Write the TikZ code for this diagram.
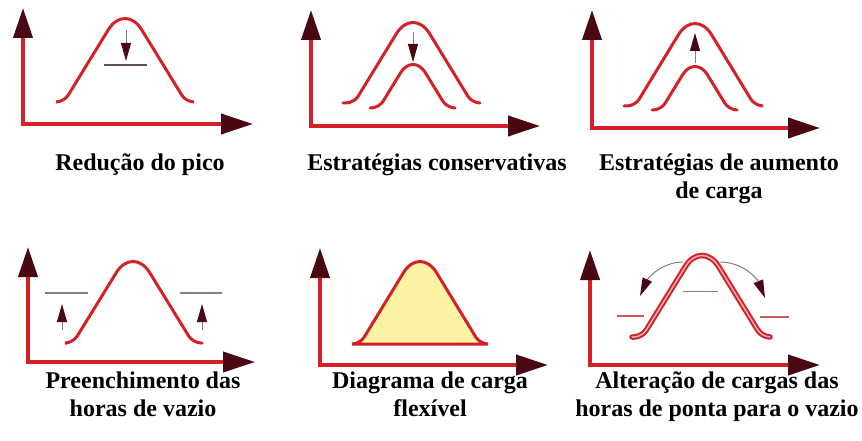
\documentclass[tikz,border=0pt]{standalone}
\usepackage{fontspec}
\setmainfont{Liberation Serif}
\usetikzlibrary{arrows.meta}
\definecolor{axisred}{HTML}{D42127}
\definecolor{tipdark}{HTML}{4A0812}
\definecolor{markgray}{HTML}{8C7A80}
\definecolor{levelgray}{HTML}{5E4E5E}
\definecolor{sidered}{HTML}{C85A5A}
\definecolor{areayellow}{HTML}{FDF3A4}
\tikzset{
  axisline/.style={draw=axisred, line width=4pt,
    {Triangle[length=30pt,width=19pt,color=tipdark]}-{Triangle[length=32pt,width=20pt,color=tipdark]}},
  loadcurve/.style={draw=axisred, line width=3pt, rounded corners=8pt, line cap=round},
  movearrow/.style={draw=markgray, line width=1pt, -{Triangle[length=18pt,width=10pt,color=tipdark]}},
  levelline/.style={draw=levelgray, line width=1.5pt},
  caption/.style={font=\bfseries\fontsize{24}{28.5}\selectfont, align=center, anchor=base}
}
\begin{document}
\begin{tikzpicture}[x=1pt,y=-1pt]
  \useasboundingbox[fill=white] (0,0) rectangle (862,441);
  % axes
  \draw[axisline] (23,8) |- (253,124);
  \draw[axisline] (311,10) |- (540,126);
  \draw[axisline] (592,10) |- (820,128);
  \draw[axisline] (28,247) |- (255,362);
  \draw[axisline] (320,248) |- (548,365);
  \draw[axisline] (590,250) |- (820,365);
  % reducao do pico
  \draw[loadcurve] (57,102) -- (64,102) [rounded corners=32pt] -- (125,2.5) [rounded corners=8pt] -- (186,102) -- (193,102);
  \draw[movearrow] (126,30) -- (126,61);
  \draw[levelline] (104,65) -- (147,65);
  % conservativas
  \draw[loadcurve] (343,103) -- (354,103) [rounded corners=32pt] -- (413,6.5) [rounded corners=8pt] -- (472,103) -- (480,103);
  \draw[loadcurve] (370,108) -- (379,108) [rounded corners=24pt] -- (413,52.5) [rounded corners=8pt] -- (447,108) -- (455,108);
  \draw[movearrow] (413,32) -- (413,62);
  % aumento de carga
  \draw[loadcurve] (624,106) -- (635,106) [rounded corners=32pt] -- (695,7.5) [rounded corners=8pt] -- (755,106) -- (762,106);
  \draw[loadcurve] (652,110) -- (661,110) [rounded corners=24pt] -- (695,54.5) [rounded corners=8pt] -- (729,110) -- (737,110);
  \draw[movearrow] (695,63) -- (695,33);
  % horas de vazio
  \draw[loadcurve] (67,343) -- (73,343) [rounded corners=32pt] -- (133,245.5) [rounded corners=8pt] -- (193,343) -- (202,343);
  \draw[levelline, draw=markgray] (45,293) -- (88,293);
  \draw[levelline, draw=markgray] (180,293) -- (222,293);
  \draw[movearrow] (62,330) -- (62,304);
  \draw[movearrow] (202,330) -- (202,304);
  % carga flexivel
  \draw[loadcurve, fill=areayellow] (352,344) -- (360,344) [rounded corners=32pt] -- (420,245.5) [rounded corners=8pt] -- (480,344) -- (488,344) -- cycle;
  % ponta para vazio
  \draw[loadcurve, line width=2pt, double=axisred!35!white, double distance=1.5pt]
    (632,337) -- (642,337) [rounded corners=32pt] -- (702,239.5) [rounded corners=8pt] -- (762,337) -- (770,337);
  \draw[movearrow] (683,262) .. controls (662,262) and (648,278) .. (640,296);
  \draw[movearrow] (720,262) .. controls (742,262) and (757,278) .. (765,298);
  \draw[levelline, draw=markgray, line width=1pt] (683,291) -- (718,291);
  \draw[levelline, draw=sidered] (617,316) -- (644,316);
  \draw[levelline, draw=sidered] (760,317) -- (789,317);
  % legendas
  \node[caption] (reducao) at (140,170) {Redução do pico};
  \node[caption] (conserv) at (437,170) {Estratégias conservativas};
  \node[caption] (aumento) at (719,198.5) {Estratégias de aumento\\de carga};
  \node[caption] (preench) at (143,416.5) {Preenchimento das\\horas de vazio};
  \node[caption] (flexivel) at (430,416.5) {Diagrama de carga\\flexível};
  \node[caption] (alteracao) at (717,416.5) {Alteração de cargas das\\horas de ponta para o vazio};
\end{tikzpicture}
\end{document}
